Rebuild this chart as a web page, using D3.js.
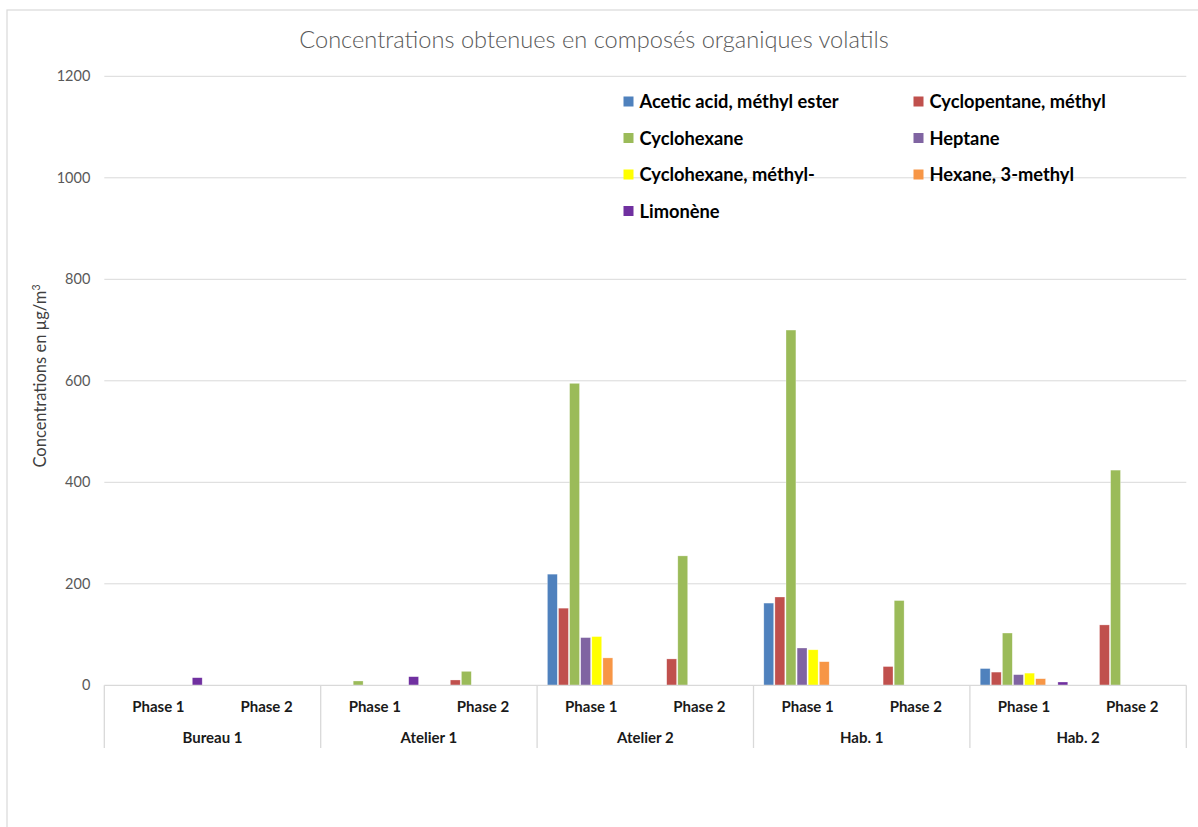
<!DOCTYPE html>
<html>
<head>
<meta charset="utf-8">
<script src="https://cdn.jsdelivr.net/npm/d3@7"></script>
<style>
  html, body { margin: 0; padding: 0; background: #fff; }
  svg { display: block; }
  text { font-family: Lato, "Open Sans", sans-serif; }
</style>
</head>
<body>
<svg id="chart" width="1198" height="827"></svg>
<script>
// ---------- Data ----------
const sites = ["Bureau 1", "Atelier 1", "Atelier 2", "Hab. 1", "Hab. 2"];
const phases = ["Phase 1", "Phase 2"];
const seriesNames = [
  "Acetic acid, méthyl ester",
  "Cyclopentane, méthyl",
  "Cyclohexane",
  "Heptane",
  "Cyclohexane, méthyl-",
  "Hexane, 3-methyl",
  "",            // empty series slot (not shown in legend)
  "Limonène"
];
const seriesColors = ["#4f81bd", "#c0504d", "#9bbb59", "#8064a2", "#ffff00", "#f79646", "none", "#7030a0"];
// values per category in order: Bureau1 P1, P2, Atelier1 P1, P2, Atelier2 P1, P2, Hab1 P1, P2, Hab2 P1, P2
const aceticAcid   = [null, null, null, null, 219, null, 162, null, 33, null];
const cyclopentane = [null, null, null, 10.5, 152, 52, 174, 37, 26, 119];
const cyclohexane  = [null, null, 8.5, 27.5, 595, 255, 700, 167, 103, 424];
const heptane      = [null, null, null, null, 94, null, 73.5, null, 21, null];
const cyclohexaneMethyl = [null, null, null, null, 96, null, 70, null, 24, null];
const hexane3Methyl = [null, null, null, null, 54, null, 46.5, null, 13, null];
const emptySeries  = [null, null, null, null, null, null, null, null, null, null];
const limonene     = [15, null, 17, null, null, null, null, null, 6.5, null];
const seriesValues = [aceticAcid, cyclopentane, cyclohexane, heptane, cyclohexaneMethyl, hexane3Methyl, emptySeries, limonene];
const yTicks = [0, 200, 400, 600, 800, 1000, 1200];
const titleText = "Concentrations obtenues en composés organiques volatils";
const yAxisTitle = "Concentrations en µg/m";

// ---------- Layout ----------
const svg = d3.select("#chart");
const plot = { left: 104.3, right: 1186.3, top: 76.3, bottom: 685.3 };

// chart border
svg.append("rect").attr("x", 7).attr("y", 10).attr("width", 1250).attr("height", 900)
  .attr("fill", "#fff").attr("stroke", "#d9d9d9").attr("stroke-width", 1.2);

const categories = [];
sites.forEach(s => phases.forEach(p => categories.push(s + "|" + p)));

const x0 = d3.scaleBand().domain(categories).range([plot.left, plot.right]).padding(0);
const x1 = d3.scaleBand().domain(d3.range(seriesNames.length)).range([0, x0.bandwidth()])
  .paddingInner(0).paddingOuter(0.875);
const y = d3.scaleLinear().domain([0, 1200]).range([plot.bottom, plot.top]);

// gridlines
svg.append("g").selectAll("line").data(yTicks.filter(d => d > 0)).join("line")
  .attr("x1", plot.left).attr("x2", plot.right)
  .attr("y1", d => y(d)).attr("y2", d => y(d))
  .attr("stroke", "#d9d9d9").attr("stroke-width", 1);

// y axis labels
const yAxis = d3.axisLeft(y).tickValues(yTicks).tickSize(0).tickPadding(14).tickFormat(d3.format("d"));
const gy = svg.append("g").attr("transform", `translate(${plot.left},0)`).call(yAxis);
gy.select(".domain").remove();
gy.selectAll("text").attr("fill", "#595959").style("font-size", "14.5px")
  .style("font-family", "Lato, sans-serif");

// bars
const barGroups = svg.append("g").selectAll("g").data(seriesValues.map((v, i) => ({ i, v })))
  .join("g").attr("fill", d => seriesColors[d.i]);
barGroups.selectAll("rect")
  .data(d => d.v.map((val, k) => ({ s: d.i, cat: categories[k], val })).filter(e => e.val != null))
  .join("rect")
  .attr("x", d => x0(d.cat) + x1(d.s) + 0.6)
  .attr("width", x1.bandwidth() - 1.2)
  .attr("y", d => y(d.val))
  .attr("height", d => y(0) - y(d.val))
  .attr("stroke", "#fff").attr("stroke-opacity", 0.5).attr("stroke-width", 0.6);

// category axis lines
const axisG = svg.append("g").attr("stroke", "#d9d9d9").attr("stroke-width", 1.3);
axisG.append("line").attr("x1", plot.left).attr("x2", plot.right)
  .attr("y1", plot.bottom).attr("y2", plot.bottom);
const siteBounds = sites.map(s => x0(s + "|" + phases[0])).concat([plot.right]);
axisG.selectAll("line.sep").data(siteBounds).join("line").attr("class", "sep")
  .attr("x1", d => d).attr("x2", d => d)
  .attr("y1", plot.bottom).attr("y2", 748);

// phase labels
svg.append("g").selectAll("text").data(categories).join("text")
  .attr("x", d => x0(d) + x0.bandwidth() / 2).attr("y", 711.5)
  .attr("text-anchor", "middle").attr("fill", "#1a1a1a")
  .style("font-size", "15px").style("font-weight", "bold")
  .text(d => d.split("|")[1]);

// site labels
svg.append("g").selectAll("text").data(sites).join("text")
  .attr("x", d => x0(d + "|" + phases[0]) + x0.bandwidth())
  .attr("y", 742.5).attr("text-anchor", "middle").attr("fill", "#1a1a1a")
  .style("font-size", "15px").style("font-weight", "bold")
  .text(d => d);

// title
svg.append("text").attr("x", 594).attr("y", 48).attr("text-anchor", "middle")
  .attr("fill", "#595959").style("font-size", "23.6px").style("font-weight", "300")
  .text(titleText);

// y-axis title
const yt = svg.append("text").attr("transform", "translate(46,376) rotate(-90)")
  .attr("text-anchor", "middle").attr("fill", "#404040").style("font-size", "16.5px");
yt.append("tspan").text(yAxisTitle);
yt.append("tspan").attr("dy", -6).style("font-size", "10.5px").text("3");

// legend
const legendItems = seriesNames.map((n, i) => ({ n, i })).filter(d => d.n !== "");
const legend = svg.append("g").selectAll("g").data(legendItems).join("g")
  .attr("transform", (d, k) => `translate(${k % 2 === 0 ? 623.5 : 913.5},${101.5 + Math.floor(k / 2) * 36.5})`);
legend.append("rect").attr("x", 0).attr("y", -5).attr("width", 10).attr("height", 10)
  .attr("fill", d => seriesColors[d.i]);
legend.append("text").attr("x", 16).attr("y", 6.5).attr("fill", "#000")
  .style("font-size", "18.3px").style("font-weight", "bold").text(d => d.n);
</script>
</body>
</html>
